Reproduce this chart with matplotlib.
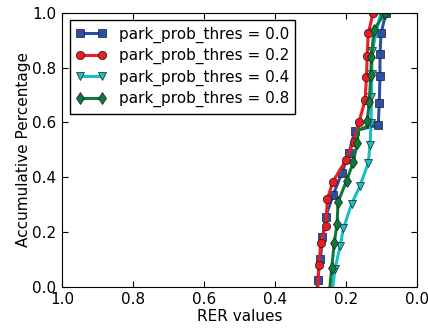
import matplotlib
matplotlib.use('Agg')
import matplotlib.pyplot as plt

# RER values (x) vs accumulative percentage (y)
thres_labels = ['park_prob_thres = 0.0', 'park_prob_thres = 0.2',
                'park_prob_thres = 0.4', 'park_prob_thres = 0.8']

x_00 = [0.281, 0.280, 0.272, 0.266, 0.257, 0.236, 0.212, 0.191, 0.175, 0.109,
        0.106, 0.104, 0.104, 0.101, 0.087]
y_00 = [0.0, 0.024, 0.100, 0.180, 0.255, 0.335, 0.414, 0.489, 0.569, 0.590,
        0.669, 0.770, 0.848, 0.925, 1.0]
mk_00 = list(range(1, 15))

x_02 = [0.279, 0.276, 0.271, 0.257, 0.252, 0.237, 0.200, 0.178, 0.163, 0.146,
        0.142, 0.140, 0.137, 0.123]
y_02 = [0.0, 0.079, 0.160, 0.222, 0.320, 0.383, 0.462, 0.530, 0.602, 0.681,
        0.766, 0.843, 0.925, 1.0]
mk_02 = list(range(1, 14))

x_04 = [0.237, 0.231, 0.216, 0.207, 0.184, 0.161, 0.137, 0.132, 0.129, 0.128,
        0.127, 0.126, 0.102]
y_04 = [0.0, 0.064, 0.150, 0.213, 0.302, 0.366, 0.452, 0.517, 0.596, 0.693,
        0.775, 0.860, 1.0]
mk_04 = list(range(1, 13))

x_08 = [0.245, 0.240, 0.233, 0.225, 0.222, 0.198, 0.179, 0.168, 0.165, 0.140,
        0.140, 0.134, 0.130, 0.128, 0.121, 0.090]
y_08 = [0.0, 0.067, 0.158, 0.229, 0.310, 0.387, 0.456, 0.526, 0.572, 0.585,
        0.605, 0.675, 0.773, 0.839, 0.937, 1.0]
mk_08 = [1, 2, 3, 4, 5, 6, 7, 10, 11, 12, 13, 14, 15]

series = [
    (x_00, y_00, mk_00, 's', '#2b4fa3'),
    (x_02, y_02, mk_02, 'o', '#ec1c24'),
    (x_04, y_04, mk_04, 'v', '#1abfc6'),
    (x_08, y_08, mk_08, 'd', '#0a7b3a'),
]

plt.rcParams['font.family'] = 'DejaVu Sans'
plt.rcParams['font.size'] = 11

fig = plt.figure(figsize=(4.28, 3.28), dpi=100)
ax = fig.add_axes([0.145, 0.126, 0.829, 0.835])

for (xs, ys, mk, marker, color), label in zip(series, thres_labels):
    ax.plot(xs, ys, color=color, lw=2.2, marker=marker, markersize=6,
            markeredgecolor='#1a1a1a', markeredgewidth=0.5, markevery=mk,
            label=label)

ax.set_xlim(1.0, 0.0)
ax.set_ylim(0.0, 1.0)
ax.set_xticks([1.0, 0.8, 0.6, 0.4, 0.2, 0.0])
ax.set_yticks([0.0, 0.2, 0.4, 0.6, 0.8, 1.0])
ax.tick_params(direction='in', top=True, right=True, length=4, pad=4)
ax.set_xlabel('RER values', labelpad=1)
ax.set_ylabel('Accumulative Percentage', labelpad=1)

leg = ax.legend(loc='upper left', fancybox=False, numpoints=2,
                handlelength=2.0, borderaxespad=0.5, labelspacing=0.35,
                framealpha=1)
leg.get_frame().set_edgecolor('black')

fig.savefig('out.png', dpi=100)
